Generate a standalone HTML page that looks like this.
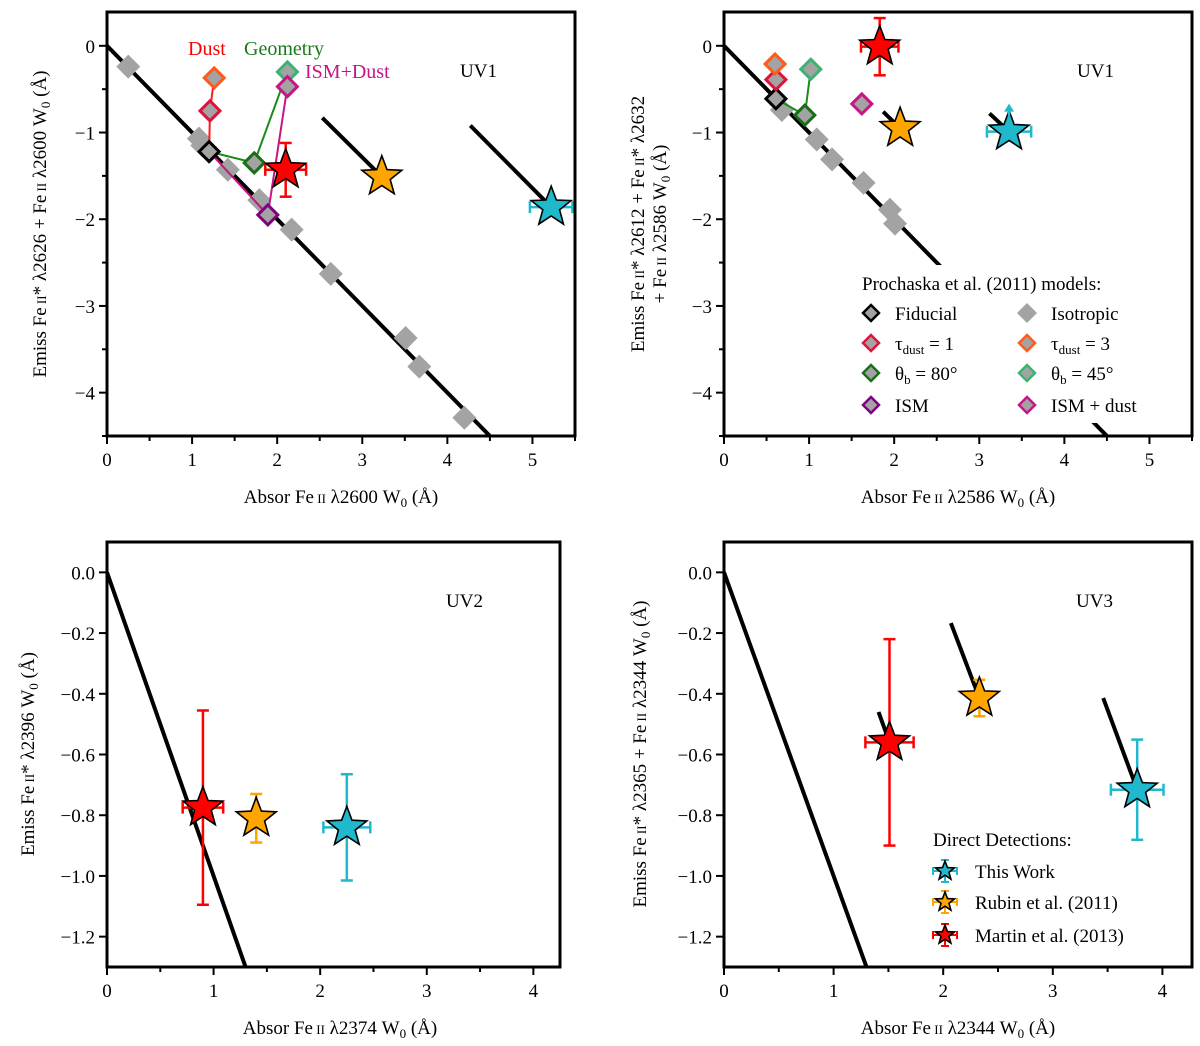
<!DOCTYPE html>
<html><head><meta charset="utf-8"><style>
html,body{margin:0;padding:0;background:#fff;}
svg{display:block;font-family:"Liberation Serif","DejaVu Serif",serif;}
</style></head><body>
<svg id="fig" xmlns="http://www.w3.org/2000/svg" width="1200" height="1046" viewBox="0 0 1200 1046">
<rect width="1200" height="1046" fill="#fff"/>
</svg>
<script>
// ---------- DATA ----------
const topXTicks = [0, 1, 2, 3, 4, 5];
const topYTicks = [0, -1, -2, -3, -4];
const botXTicks = [0, 1, 2, 3, 4];
const botYTicks = [0, -0.2, -0.4, -0.6, -0.8, -1.0, -1.2];
const modelNames = ['fiducial', 'tau1', 'tau3', 'theta80', 'theta45', 'ism', 'ismdust'];
const modelColors = ['#000000', '#dc143c', '#ff5a1a', '#1a6e1a', '#3cb371', '#800080', '#c71585'];
const starNames = ['this-work', 'rubin-2011', 'martin-2013'];
const starColors = ['#1fb8cc', '#ffa500', '#ff0000'];

// Panel UV1 (2600)
const tlIsoX = [0.25, 1.08, 1.12, 1.42, 1.79, 2.17, 2.63, 3.51, 3.67, 4.20];
const tlIsoY = [-0.24, -1.07, -1.15, -1.43, -1.78, -2.12, -2.63, -3.37, -3.70, -4.29];
const tlModelX = [1.20, 1.21, 1.26, 1.73, 2.12, 1.89, 2.12];
const tlModelY = [-1.22, -0.75, -0.37, -1.35, -0.30, -1.95, -0.47];
const tlStarX = [5.22, 3.23, 2.10];
const tlStarY = [-1.86, -1.51, -1.43];
const tlStarXErr = [0.25, 0, 0.24];
const tlStarYErr = [0, 0, 0.31];
const tlTrendX0 = [4.27, 2.53, null];
const tlTrendY0 = [-0.92, -0.83, null];

// Panel UV1 (2586)
const trIsoX = [0.68, 1.09, 1.27, 1.64, 1.95, 2.01];
const trIsoY = [-0.74, -1.08, -1.31, -1.58, -1.89, -2.05];
const trModelX = [0.61, 0.61, 0.60, 0.95, 1.02, null, 1.62];
const trModelY = [-0.61, -0.39, -0.21, -0.80, -0.27, null, -0.67];
const trStarX = [3.35, 2.07, 1.83];
const trStarY = [-0.99, -0.95, -0.01];
const trStarXErr = [0.26, 0, 0.22];
const trStarYErr = [0, 0, 0.33];
const trTrendX0 = [3.12, 1.87, null];
const trTrendY0 = [-0.78, -0.76, null];

// Panel UV2 (2374)
const blStarX = [2.25, 1.40, 0.90];
const blStarY = [-0.84, -0.81, -0.775];
const blStarXErr = [0.22, 0, 0.19];
const blStarYErr = [0.175, 0.08, 0.32];

// Panel UV3 (2344)
const brStarX = [3.77, 2.33, 1.51];
const brStarY = [-0.716, -0.414, -0.56];
const brStarXErr = [0.24, 0, 0.22];
const brStarYErr = [0.165, 0.06, 0.34];
const brTrendX0 = [3.46, 2.07, 1.41];
const brTrendY0 = [-0.414, -0.167, -0.46];

// ---------- DRAWING ----------
const NS = 'http://www.w3.org/2000/svg';
const svg = document.getElementById('fig');
function mk(tag, attrs, parent) {
  const e = document.createElementNS(NS, tag);
  for (const k in attrs) e.setAttribute(k, attrs[k]);
  (parent || svg).appendChild(e);
  return e;
}
function fmtTop(v) { return v === 0 ? '0' : '\u2212' + Math.abs(v); }
function fmtBot(v) { return v === 0 ? '0.0' : '\u2212' + Math.abs(v).toFixed(1); }

function makePanel(p) {
  const g = mk('g', {});
  
  
  p.g = g;
  p.sx = v => p.x0 + (v - p.xmin) / (p.xmax - p.xmin) * (p.x1 - p.x0);
  p.sy = v => p.y0 + (p.ymax - v) / (p.ymax - p.ymin) * (p.y1 - p.y0);
  const clipId = 'clip-' + p.name;
  const cp = mk('clipPath', { id: clipId }, g);
  mk('rect', { x: p.x0, y: p.y0, width: p.x1 - p.x0, height: p.y1 - p.y0 }, cp);
  p.plot = mk('g', { 'clip-path': 'url(#' + clipId + ')' }, g);
  
  
  return p;
}
function drawAxes(p, xt, yt, fmt, yMinorStep) {
  const g = mk('g', {}, p.g);
  
  
  for (let v = p.xmin; v <= p.xmax + 1e-9; v += 0.5) {
    const major = Math.abs(v - Math.round(v)) < 1e-9;
    const X = p.sx(v);
    mk('line', { x1: X, x2: X, y1: p.y1, y2: p.y1 + (major ? 8 : 5), stroke: '#000', 'stroke-width': 2 }, g);
  }
  xt.forEach(v => {
    const t = mk('text', { x: p.sx(v), y: p.y1 + 30, 'font-size': 19, 'text-anchor': 'middle' }, g);
    t.textContent = String(v);
    
    
  });
  if (yMinorStep) {
    for (let v = 0; v >= p.ymin - 1e-9; v -= yMinorStep) {
      const Y = p.sy(v);
      const major = Math.abs(v - Math.round(v)) < 1e-9;
      mk('line', { x1: p.x0 - (major ? 8 : 5), x2: p.x0, y1: Y, y2: Y, stroke: '#000', 'stroke-width': 2 }, g);
    }
  } else {
    yt.forEach(v => {
      const Y = p.sy(v);
      mk('line', { x1: p.x0 - 8, x2: p.x0, y1: Y, y2: Y, stroke: '#000', 'stroke-width': 2 }, g);
    });
  }
  yt.forEach(v => {
    const t = mk('text', { x: p.x0 - 12, y: p.sy(v) + 7, 'font-size': 19, 'text-anchor': 'end' }, g);
    t.textContent = fmt(v);
    
    
  });
  const fr = mk('rect', { x: p.x0, y: p.y0, width: p.x1 - p.x0, height: p.y1 - p.y0, fill: 'none', stroke: '#000', 'stroke-width': 3 }, p.g);
  
  
}
function mainLine(p) {
  const l = mk('line', { x1: p.sx(0), y1: p.sy(0), x2: p.sx(-p.ymin + 0.2), y2: p.sy(p.ymin - 0.2), stroke: '#000', 'stroke-width': 4 }, p.plot);
  
  
}
function trendLines(p, x0s, y0s, xs, ys) {
  x0s.forEach((x0, i) => {
    if (x0 === null) return;
    const l = mk('line', { x1: p.sx(x0), y1: p.sy(y0s[i]), x2: p.sx(xs[i]), y2: p.sy(ys[i]), stroke: '#000', 'stroke-width': 4 }, p.plot);
    
    
  });
}
function diamond(parent, X, Y, h, fill, stroke, sw) {
  return mk('polygon', { points: `${X},${Y - h} ${X + h},${Y} ${X},${Y + h} ${X - h},${Y}`, fill: fill, stroke: stroke, 'stroke-width': sw }, parent);
}
function isoPoints(p, xs, ys) {
  xs.forEach((x, i) => {
    const d = diamond(p.plot, p.sx(x), p.sy(ys[i]), 12, '#a3a3a3', 'none', 0);
    
    
  });
}
function modelLinks(p, xs, ys, chains) {
  chains.forEach(c => {
    const pts = c.idx.filter(i => xs[i] !== null).map(i => p.sx(xs[i]) + ',' + p.sy(ys[i])).join(' ');
    const l = mk('polyline', { points: pts, fill: 'none', stroke: c.color, 'stroke-width': 2 }, p.plot);
    
    
  });
}
function modelPoints(p, xs, ys) {
  xs.forEach((x, i) => {
    if (x === null) return;
    const d = diamond(p.plot, p.sx(x), p.sy(ys[i]), 10, '#a3a3a3', modelColors[i], 3);
    
    
  });
}
function starPath(X, Y, R) {
  let pts = [];
  for (let k = 0; k < 10; k++) {
    const r = k % 2 === 0 ? R : R * 0.42;
    const a = -Math.PI / 2 + k * Math.PI / 5;
    pts.push((X + r * Math.cos(a)).toFixed(1) + ',' + (Y + r * Math.sin(a)).toFixed(1));
  }
  return pts.join(' ');
}
function errStar(parent, X, Y, R, color, xlo, xhi, ylo, yhi, cap, sw) {
  const g = mk('g', {}, parent);
  if (xhi - xlo > 1) {
    mk('line', { x1: xlo, x2: xhi, y1: Y, y2: Y, stroke: color, 'stroke-width': sw }, g);
    mk('line', { x1: xlo, x2: xlo, y1: Y - cap, y2: Y + cap, stroke: color, 'stroke-width': sw }, g);
    mk('line', { x1: xhi, x2: xhi, y1: Y - cap, y2: Y + cap, stroke: color, 'stroke-width': sw }, g);
  }
  if (yhi - ylo > 1) {
    mk('line', { x1: X, x2: X, y1: ylo, y2: yhi, stroke: color, 'stroke-width': sw }, g);
    mk('line', { x1: X - cap, x2: X + cap, y1: ylo, y2: ylo, stroke: color, 'stroke-width': sw }, g);
    mk('line', { x1: X - cap, x2: X + cap, y1: yhi, y2: yhi, stroke: color, 'stroke-width': sw }, g);
  }
  mk('polygon', { points: starPath(X, Y, R), fill: color, stroke: '#000', 'stroke-width': 1.6, 'stroke-linejoin': 'miter' }, g);
  return g;
}
function stars(p, xs, ys, xe, ye) {
  xs.forEach((x, i) => {
    const X = p.sx(x), Y = p.sy(ys[i]);
    const g = errStar(p.plot, X, Y, 21, starColors[i], p.sx(x - xe[i]), p.sx(x + xe[i]), p.sy(ys[i] + ye[i]), p.sy(ys[i] - ye[i]), 6, 2.5);
    
    
  });
}
function text(parent, x, y, str, size, attrs, name) {
  const t = mk('text', Object.assign({ x: x, y: y, 'font-size': size }, attrs || {}), parent);
  t.innerHTML = str;
  
  
  return t;
}
const FE = 'Fe<tspan font-size="13"> II</tspan>';
const W0 = 'W<tspan font-size="13" dy="4">0</tspan><tspan dy="-4"> (Å)</tspan>';

// ---- Top-left ----
const tl = makePanel({ name: 'panel-uv1-2600', x0: 107, x1: 575, y0: 12, y1: 436, xmin: 0, xmax: 5.5, ymin: -4.5, ymax: 0.39 });
mainLine(tl);
trendLines(tl, tlTrendX0, tlTrendY0, tlStarX, tlStarY);
isoPoints(tl, tlIsoX, tlIsoY);
modelLinks(tl, tlModelX, tlModelY, [
  { idx: [0, 1, 2], color: '#ff1a1a', name: 'dust-track' },
  { idx: [0, 3, 4], color: '#1a8a1a', name: 'geometry-track' },
  { idx: [0, 5, 6], color: '#c71585', name: 'ism-dust-track' }]);
modelPoints(tl, tlModelX, tlModelY);
stars(tl, tlStarX, tlStarY, tlStarXErr, tlStarYErr);
drawAxes(tl, topXTicks, topYTicks, fmtTop, 0.5);
text(tl.g, 188, 55, 'Dust', 20, { fill: '#ff0000' }, 'dust-annotation');
text(tl.g, 244, 55, 'Geometry', 20, { fill: '#1a7a1a' }, 'geometry-annotation');
text(tl.g, 305, 78, 'ISM+Dust', 20, { fill: '#c71585' }, 'ism-dust-annotation');
text(tl.g, 460, 77, 'UV1', 19, {}, 'panel-label-uv1');
text(tl.g, 341, 503, 'Absor ' + FE + ' λ2600 ' + W0, 19, { 'text-anchor': 'middle' }, 'x-axis-title');
text(tl.g, 0, 0, 'Emiss ' + FE + '* λ2626 + ' + FE + ' λ2600 ' + W0, 19, { 'text-anchor': 'middle', transform: 'translate(46,224) rotate(-90)' }, 'y-axis-title');

// ---- Top-right ----
const tr = makePanel({ name: 'panel-uv1-2586', x0: 724, x1: 1192, y0: 12, y1: 436, xmin: 0, xmax: 5.5, ymin: -4.5, ymax: 0.39 });
mainLine(tr);
trendLines(tr, trTrendX0, trTrendY0, trStarX, trStarY);
isoPoints(tr, trIsoX, trIsoY);
modelLinks(tr, trModelX, trModelY, [{ idx: [0, 3, 4], color: '#1a8a1a', name: 'geometry-track' }]);
modelPoints(tr, trModelX, trModelY);
stars(tr, trStarX, trStarY, trStarXErr, trStarYErr);
(function () {
  const X = tr.sx(trStarX[0]), Y = tr.sy(trStarY[0]), Yt = tr.sy(trStarY[0] + 0.3);
  const g = mk('g', {}, tr.plot);
  
  
  mk('line', { x1: X, x2: X, y1: Y - 10, y2: Yt + 4, stroke: starColors[0], 'stroke-width': 2.5 }, g);
  mk('polygon', { points: `${X - 5},${Yt + 6} ${X + 5},${Yt + 6} ${X},${Yt - 2}`, fill: starColors[0] }, g);
  tr.plot.insertBefore(g, tr.plot.lastChild);
})();
(function () {
  const g = mk('g', {}, tr.g);
  
  
  mk('rect', { x: 852, y: 265, width: 336, height: 158, fill: '#fff' }, g);
  text(g, 862, 290, 'Prochaska et al. (2011) models:', 19, {}, 'legend-title');
  const labels = ['Fiducial', 'Isotropic', 'τ<tspan font-size="13" dy="4">dust</tspan><tspan dy="-4"> = 1</tspan>', 'τ<tspan font-size="13" dy="4">dust</tspan><tspan dy="-4"> = 3</tspan>',
    'θ<tspan font-size="13" dy="4">b</tspan><tspan dy="-4"> = 80°</tspan>', 'θ<tspan font-size="13" dy="4">b</tspan><tspan dy="-4"> = 45°</tspan>', 'ISM', 'ISM + dust'];
  const edges = [modelColors[0], 'none', modelColors[1], modelColors[2], modelColors[3], modelColors[4], modelColors[5], modelColors[6]];
  const rowsY = [313, 343, 373, 405];
  labels.forEach((lab, i) => {
    const col = i % 2, row = Math.floor(i / 2);
    const mx = col ? 1027 : 871, tx = col ? 1051 : 895;
    const d = diamond(g, mx, rowsY[row], edges[i] === 'none' ? 10 : 8, '#a3a3a3', edges[i], edges[i] === 'none' ? 0 : 2.5);
    
    
    text(g, tx, rowsY[row] + 7, lab, 19, {}, 'legend-entry');
  });
})();
drawAxes(tr, topXTicks, topYTicks, fmtTop, 0.5);
text(tr.g, 1077, 77, 'UV1', 19, {}, 'panel-label-uv1');
text(tr.g, 958, 503, 'Absor ' + FE + ' λ2586 ' + W0, 19, { 'text-anchor': 'middle' }, 'x-axis-title');
text(tr.g, 0, 0, 'Emiss ' + FE + '* λ2612 + ' + FE + '* λ2632', 19, { 'text-anchor': 'middle', transform: 'translate(644,224) rotate(-90)' }, 'y-axis-title-line1');
text(tr.g, 0, 0, '+ ' + FE + ' λ2586 ' + W0, 19, { 'text-anchor': 'middle', transform: 'translate(666,224) rotate(-90)' }, 'y-axis-title-line2');

// ---- Bottom-left ----
const bl = makePanel({ name: 'panel-uv2-2374', x0: 107, x1: 560, y0: 542, y1: 967, xmin: 0, xmax: 4.25, ymin: -1.3, ymax: 0.1 });
mainLine(bl);
stars(bl, blStarX, blStarY, blStarXErr, blStarYErr);
drawAxes(bl, botXTicks, botYTicks, fmtBot, null);
text(bl.g, 446, 607, 'UV2', 19, {}, 'panel-label-uv2');
text(bl.g, 340, 1034, 'Absor ' + FE + ' λ2374 ' + W0, 19, { 'text-anchor': 'middle' }, 'x-axis-title');
text(bl.g, 0, 0, 'Emiss ' + FE + '* λ2396 ' + W0, 19, { 'text-anchor': 'middle', transform: 'translate(34,754) rotate(-90)' }, 'y-axis-title');

// ---- Bottom-right ----
const br = makePanel({ name: 'panel-uv3-2344', x0: 724, x1: 1192, y0: 542, y1: 967, xmin: 0, xmax: 4.27, ymin: -1.3, ymax: 0.1 });
mainLine(br);
trendLines(br, brTrendX0, brTrendY0, brStarX, brStarY);
stars(br, brStarX, brStarY, brStarXErr, brStarYErr);
(function () {
  const g = mk('g', {}, br.g);
  
  
  text(g, 933, 846, 'Direct Detections:', 19, {}, 'legend-title');
  const labs = ['This Work', 'Rubin et al. (2011)', 'Martin et al. (2013)'];
  const ys = [871, 902, 935];
  labs.forEach((lab, i) => {
    const m = errStar(g, 945, ys[i], 10, starColors[i], 933, 957, ys[i] - 11, ys[i] + 11, 4, 2);
    
    
    text(g, 975, ys[i] + 7, lab, 19, {}, 'legend-entry');
  });
})();
drawAxes(br, botXTicks, botYTicks, fmtBot, null);
text(br.g, 1076, 607, 'UV3', 19, {}, 'panel-label-uv3');
text(br.g, 958, 1034, 'Absor ' + FE + ' λ2344 ' + W0, 19, { 'text-anchor': 'middle' }, 'x-axis-title');
text(br.g, 0, 0, 'Emiss ' + FE + '* λ2365 + ' + FE + ' λ2344 ' + W0, 19, { 'text-anchor': 'middle', transform: 'translate(646,754) rotate(-90)' }, 'y-axis-title');
</script>
</body></html>
